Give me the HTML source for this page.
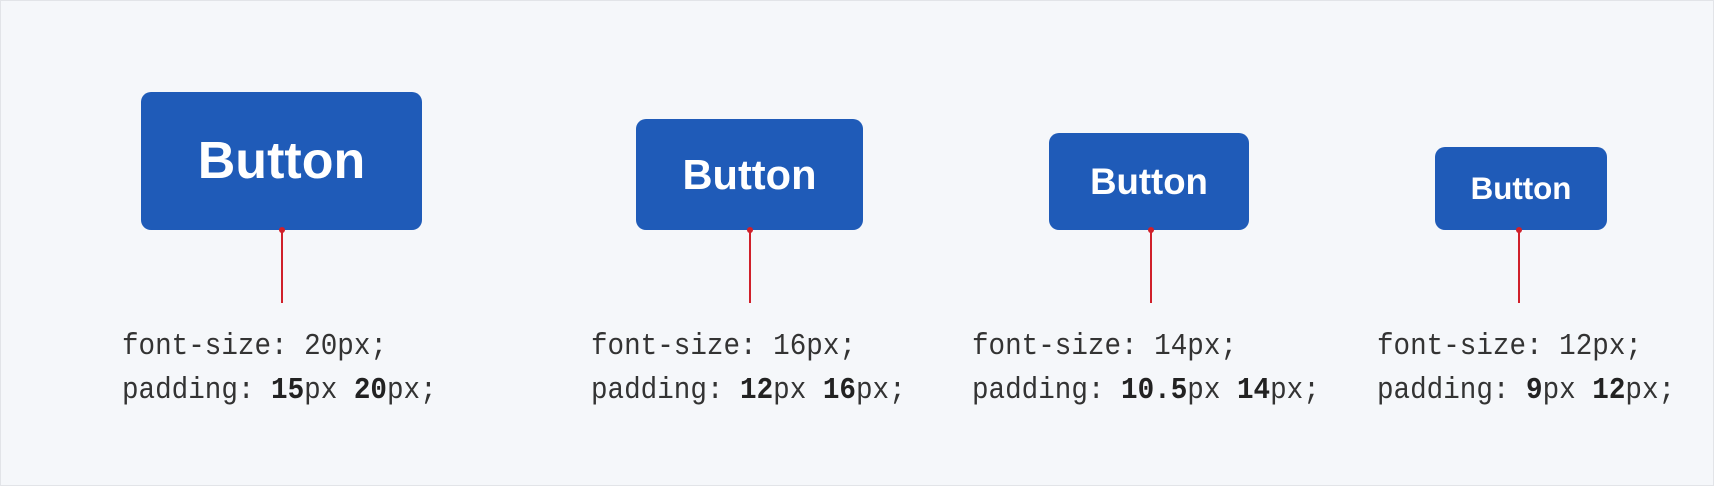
<!DOCTYPE html>
<html><head><style>
html,body{margin:0;padding:0;}
body{width:1714px;height:486px;background:#f5f7fa;position:relative;overflow:hidden;box-sizing:border-box;border:1px solid #e2e4e8;}
.b{position:absolute;background:#1f5bb8;border-radius:10px;color:#fff;font-family:"Liberation Sans",sans-serif;font-weight:bold;display:flex;align-items:center;justify-content:center;}
.l{position:absolute;width:2px;background:#d0202a;top:229px;height:73px;}
.d{position:absolute;width:6px;height:6px;border-radius:50%;background:#d0202a;top:226px;}
.t{position:absolute;font-family:"Liberation Mono",monospace;font-size:27.6px;color:#333;line-height:39px;top:324px;white-space:pre;transform:scaleY(1.12);transform-origin:top left;}
.t b{color:#222;}
</style></head><body>
<div class="b" style="left:140px;top:91px;width:281px;height:138px;font-size:52px;">Button</div>
<div class="l" style="left:280px"></div><div class="d" style="left:278px"></div>
<div class="t" style="left:121px">font-size: 20px;
padding: <b>15</b>px <b>20</b>px;</div>

<div class="b" style="left:635px;top:118px;width:227px;height:111px;font-size:41.6px;">Button</div>
<div class="l" style="left:748px"></div><div class="d" style="left:746px"></div>
<div class="t" style="left:590px">font-size: 16px;
padding: <b>12</b>px <b>16</b>px;</div>

<div class="b" style="left:1048px;top:132px;width:200px;height:97px;font-size:36.6px;">Button</div>
<div class="l" style="left:1149px"></div><div class="d" style="left:1147px"></div>
<div class="t" style="left:971px">font-size: 14px;
padding: <b>10.5</b>px <b>14</b>px;</div>

<div class="b" style="left:1434px;top:146px;width:172px;height:83px;font-size:31.3px;">Button</div>
<div class="l" style="left:1517px"></div><div class="d" style="left:1515px"></div>
<div class="t" style="left:1376px">font-size: 12px;
padding: <b>9</b>px <b>12</b>px;</div>
</body></html>
